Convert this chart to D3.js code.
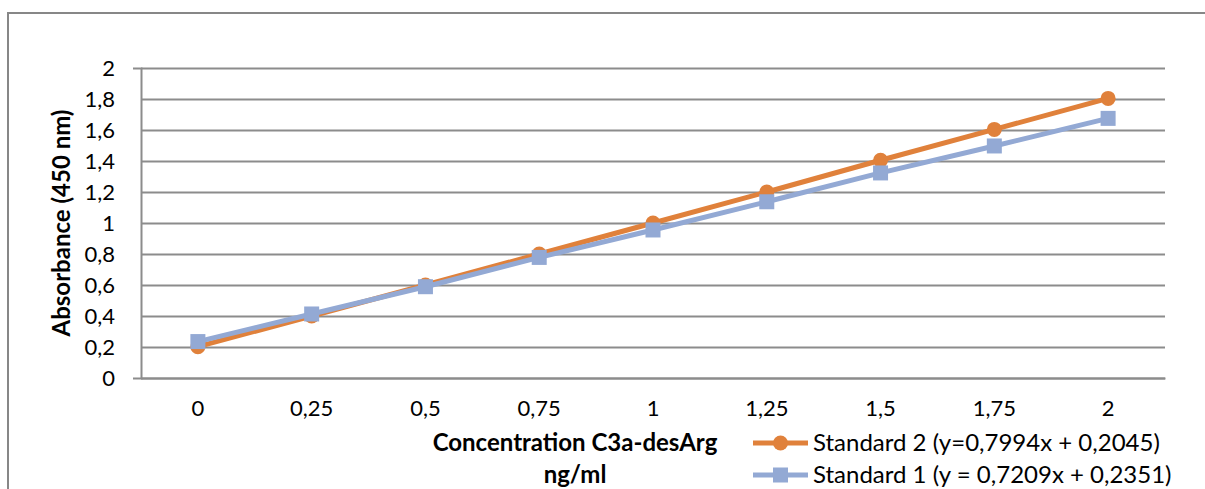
<!DOCTYPE html>
<html>
<head>
<meta charset="utf-8">
<script src="https://cdn.jsdelivr.net/npm/d3@7"></script>
<style>
  body { margin: 0; background: #fff; }
  svg { display: block; font-family: Lato, "Open Sans", sans-serif; }
</style>
</head>
<body>
<svg width="1205" height="489"></svg>
<script>
// data
var concentrations = ["0", "0,25", "0,5", "0,75", "1", "1,25", "1,5", "1,75", "2"];
var standard2 = [0.202, 0.400, 0.600, 0.800, 1.000, 1.200, 1.405, 1.604, 1.804];
var standard1 = [0.235, 0.413, 0.589, 0.778, 0.955, 1.137, 1.323, 1.497, 1.675];
var yTicks = [0, 0.2, 0.4, 0.6, 0.8, 1, 1.2, 1.4, 1.6, 1.8, 2];
var seriesNames = ["Standard 2 (y=0,7994x + 0,2045)", "Standard 1 (y = 0,7209x + 0,2351)"];

var orange = "#e0813b", blue = "#93a9d4", grid = "#8c8c8c";

var svg = d3.select("svg"),
    margin = {top: 68, left: 141},
    width = 1024,
    height = 310,
    g = svg.append("g").attr("transform", "translate(" + margin.left + "," + margin.top + ")");

// chart area border
svg.append("rect")
  .attr("x", 8).attr("y", 13)
  .attr("width", 1250).attr("height", 520)
  .attr("fill", "none").attr("stroke", "#878787").attr("stroke-width", 2);

var x = d3.scaleBand().domain(concentrations).range([0, width]);
var y = d3.scaleLinear().domain([0, 2]).range([height, 0]);
var fmt = function(d) { return String(+d.toFixed(1)).replace(".", ","); };

// y axis with gridlines
var yAxis = g.append("g")
  .call(d3.axisLeft(y).tickValues(yTicks).tickSize(8).tickFormat(fmt));
yAxis.select(".domain").attr("stroke", grid).attr("stroke-width", 2);
yAxis.selectAll(".tick line").attr("stroke", grid).attr("stroke-width", 2).attr("x2", width);
yAxis.selectAll("text")
  .attr("x", -26).attr("fill", "#000")
  .attr("font-size", 22).attr("font-family", "Lato");

// x axis
var xAxis = g.append("g")
  .attr("transform", "translate(0," + height + ")")
  .call(d3.axisBottom(x).tickSize(0).tickPadding(22));
xAxis.select(".domain").attr("stroke", grid).attr("stroke-width", 2);
xAxis.selectAll("text")
  .attr("fill", "#000").attr("font-size", 22).attr("font-family", "Lato");

// axis titles
svg.append("text")
  .attr("transform", "translate(70,223) rotate(-90)")
  .attr("text-anchor", "middle")
  .attr("font-size", 24).attr("font-weight", "bold")
  .text("Absorbance (450 nm)");

var xt = svg.append("text")
  .attr("text-anchor", "middle")
  .attr("font-size", 24).attr("font-weight", "bold");
xt.append("tspan").attr("x", 575).attr("y", 451).text("Concentration C3a-desArg");
xt.append("tspan").attr("x", 575).attr("y", 483).text("ng/ml");

var line = d3.line()
  .x(function(d, i) { return x(concentrations[i]) + x.bandwidth() / 2; })
  .y(function(d) { return y(d); });

// Standard 2 (orange, circles)
g.append("path").datum(standard2)
  .attr("fill", "none").attr("stroke", orange).attr("stroke-width", 5)
  .attr("d", line);
g.selectAll(".dot2").data(standard2).enter().append("circle")
  .attr("cx", function(d, i) { return x(concentrations[i]) + x.bandwidth() / 2; })
  .attr("cy", function(d) { return y(d); })
  .attr("r", 7.5).attr("fill", orange);

// Standard 1 (blue, squares)
g.append("path").datum(standard1)
  .attr("fill", "none").attr("stroke", blue).attr("stroke-width", 5)
  .attr("d", line);
g.selectAll(".sq1").data(standard1).enter().append("rect")
  .attr("x", function(d, i) { return x(concentrations[i]) + x.bandwidth() / 2 - 7.5; })
  .attr("y", function(d) { return y(d) - 7.5; })
  .attr("width", 15).attr("height", 15).attr("fill", blue);

// legend
var legend = svg.append("g").selectAll("g")
  .data([{name: seriesNames[0], color: orange, shape: "circle"},
         {name: seriesNames[1], color: blue, shape: "square"}])
  .enter().append("g")
  .attr("transform", function(d, i) { return "translate(753," + (443 + i * 32) + ")"; });

legend.append("line")
  .attr("x1", 0).attr("x2", 55)
  .attr("stroke", function(d) { return d.color; }).attr("stroke-width", 5);
legend.filter(function(d) { return d.shape == "circle"; }).append("circle")
  .attr("cx", 27.5).attr("r", 7.5).attr("fill", orange);
legend.filter(function(d) { return d.shape == "square"; }).append("rect")
  .attr("x", 20).attr("y", -7.5).attr("width", 15).attr("height", 15).attr("fill", blue);
legend.append("text")
  .attr("x", 60).attr("dy", "0.35em")
  .attr("font-size", 24)
  .text(function(d) { return d.name; });
</script>
</body>
</html>
